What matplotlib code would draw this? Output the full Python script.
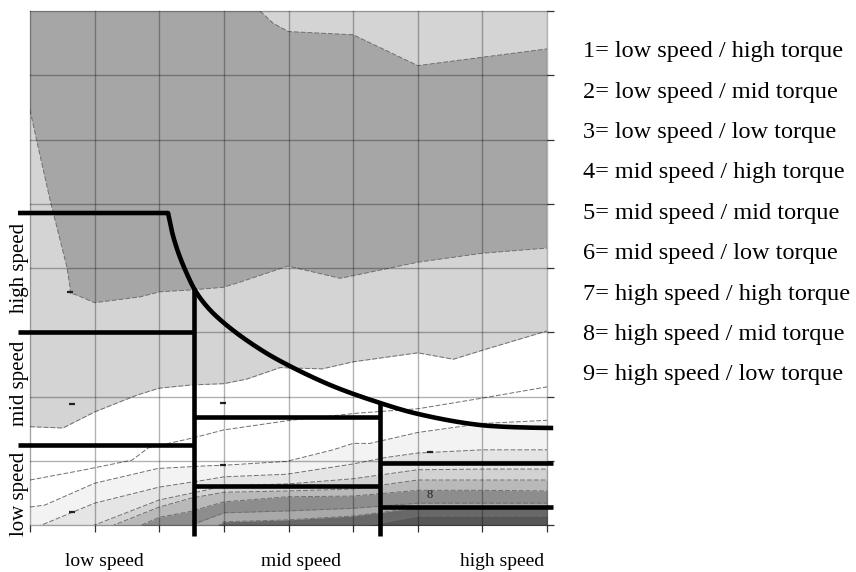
import numpy as np
import matplotlib
matplotlib.use("Agg")
import matplotlib.pyplot as plt

plt.rcParams['font.family'] = ['Liberation Serif', 'DejaVu Serif']

# contour boundaries (speed grid x 0..8, torque grid y 0..8)
top_x = [3.56, 3.76, 4.0, 5.0, 6.0, 7.0, 8.0]
top_y = [8.0, 7.81, 7.68, 7.63, 7.15, 7.28, 7.41]
dark_low_x = [0.0, 0.10, 0.31, 0.57, 0.62, 0.62, 0.72, 1.0, 1.70, 2.01, 2.52, 2.99, 3.25, 3.99, 4.80, 5.0, 6.0, 7.0, 8.0]
dark_low_y = [6.46, 6.0, 5.06, 4.02, 3.70, 3.61, 3.58, 3.46, 3.55, 3.63, 3.66, 3.70, 3.78, 4.03, 3.84, 3.88, 4.09, 4.23, 4.31]

white_x = [0, 0.51, 1.0, 1.65, 2.0, 2.5, 3.0, 3.35, 3.87, 4.52, 5.0, 6.0, 6.55, 7.0, 8.0]
white_y = [1.53, 1.51, 1.76, 2.02, 2.13, 2.18, 2.20, 2.27, 2.45, 2.43, 2.54, 2.68, 2.58, 2.72, 3.02]

# lower bands: (x, y, colour below the line)
bands = [
    ([0, 0.85, 1.58, 1.83, 2.5, 3.0, 4.03, 5.06, 6.01, 6.97, 8.0],
     [0.70, 0.86, 1.01, 1.20, 1.35, 1.48, 1.63, 1.74, 1.81, 1.97, 2.15], '#ffffff'),
    ([0, 0.23, 1.0, 1.98, 2.71, 3.0, 3.97, 4.69, 5.0, 5.26, 6.0, 7.0, 8.0],
     [0.28, 0.31, 0.65, 0.88, 0.92, 0.93, 0.99, 1.17, 1.27, 1.27, 1.44, 1.58, 1.63], '#f3f3f3'),
    ([0, 0.18, 1.0, 2.0, 2.71, 3.0, 3.97, 5.0, 5.5, 6.0, 7.0, 8.0],
     [-0.05, 0.0, 0.34, 0.59, 0.70, 0.75, 0.79, 0.95, 1.05, 1.12, 1.17, 1.17], '#e5e5e5'),
    ([0, 1.0, 2.0, 2.71, 3.0, 4.0, 5.0, 6.0, 7.0, 8.0],
     [-0.45, 0.0, 0.39, 0.54, 0.61, 0.64, 0.72, 0.86, 0.87, 0.87], '#d2d2d2'),
    ([0, 1.0, 1.3, 2.0, 2.5, 3.0, 4.0, 5.0, 6.0, 7.0, 8.0],
     [-0.9, -0.2, 0.0, 0.28, 0.42, 0.51, 0.53, 0.56, 0.70, 0.70, 0.70], '#b9b9b9'),
    ([0, 1.0, 1.73, 2.0, 2.48, 3.0, 4.0, 5.0, 6.0, 7.0, 8.0],
     [-1.5, -0.6, 0.0, 0.12, 0.21, 0.36, 0.44, 0.45, 0.54, 0.54, 0.53], '#8d8d8d'),
    ([1.0, 2.0, 2.5, 3.0, 4.0, 5.0, 6.0, 7.0, 8.0],
     [-1.0, -0.3, 0.0, 0.19, 0.22, 0.26, 0.34, 0.34, 0.34], '#a9a9a9'),
    ([2.0, 3.0, 4.0, 5.0, 6.0, 7.0, 8.0],
     [-0.6, 0.05, 0.08, 0.14, 0.27, 0.28, 0.28], '#686868'),
    ([3.0, 4.0, 5.0, 6.0, 7.0, 8.0],
     [-0.6, -0.25, -0.05, 0.14, 0.14, 0.14], '#575757'),
]

# power limit curve and zone borders
curve_x = [2.136, 2.198, 2.291, 2.415, 2.570, 2.786, 3.096, 3.483, 3.870, 4.644, 5.418, 6.006, 6.966, 8.003, 8.096]
curve_y = [4.856, 4.560, 4.249, 3.938, 3.626, 3.346, 3.066, 2.786, 2.553, 2.179, 1.899, 1.728, 1.556, 1.510, 1.510]
label_x = -0.186
low_split = 2.53
mid_split = 5.42
low_bounds = [3.0, 1.245]
mid_bounds = [1.686, 0.61]
high_bounds = [0.97, 0.285]

legend = ["1= low speed / high torque", "2= low speed / mid torque", "3= low speed / low torque",
          "4= mid speed / high torque", "5= mid speed / mid torque", "6= mid speed / low torque",
          "7= high speed / high torque", "8= high speed / mid torque", "9= high speed / low torque"]
speed_names = ["low speed", "mid speed", "high speed"]


def smooth(px, py, n=20):
    # centripetal catmull-rom through the read points
    pts = np.column_stack([px, py]).astype(float)
    pts = np.vstack([2 * pts[0] - pts[1], pts, 2 * pts[-1] - pts[-2]])
    out = []
    for i in range(1, len(pts) - 2):
        p0, p1, p2, p3 = pts[i - 1:i + 3]
        t0 = 0.0
        t1 = t0 + np.linalg.norm(p1 - p0) ** 0.5
        t2 = t1 + np.linalg.norm(p2 - p1) ** 0.5
        t3 = t2 + np.linalg.norm(p3 - p2) ** 0.5
        t = np.linspace(t1, t2, n, endpoint=False)[:, None]
        a1 = (t1 - t) / (t1 - t0) * p0 + (t - t0) / (t1 - t0) * p1
        a2 = (t2 - t) / (t2 - t1) * p1 + (t - t1) / (t2 - t1) * p2
        a3 = (t3 - t) / (t3 - t2) * p2 + (t - t2) / (t3 - t2) * p3
        b1 = (t2 - t) / (t2 - t0) * a1 + (t - t0) / (t2 - t0) * a2
        b2 = (t3 - t) / (t3 - t1) * a2 + (t - t1) / (t3 - t1) * a3
        out.append((t2 - t) / (t2 - t1) * b1 + (t - t1) / (t2 - t1) * b2)
    out.append(pts[-2][None])
    return np.vstack(out)


fig = plt.figure(figsize=(8.56, 5.72), dpi=100)
ax = fig.add_axes([30 / 856, 1 - 525 / 572, 517 / 856, 514 / 572])
ax.set_xlim(0, 8)
ax.set_ylim(0, 8)
ax.set_facecolor('#d4d4d4')

dark_x = list(top_x) + [8.0] + dark_low_x[::-1] + [0.0]
dark_y = list(top_y) + [4.31] + dark_low_y[::-1] + [8.0]
ax.fill(dark_x, dark_y, color='#a6a6a6', lw=0, zorder=1)
ax.fill_between(white_x, -2, white_y, color='white', lw=0, zorder=2)
for bx, by, col in bands:
    ax.fill_between(bx, -2, by, color=col, lw=0, zorder=2)

dash = dict(color='#6f6f6f', lw=0.7, ls=(0, (5, 2)), zorder=3)
ax.plot(top_x, top_y, **dash)
ax.plot(dark_low_x, dark_low_y, **dash)
ax.plot(white_x, white_y, **dash)
for bx, by, col in bands:
    ax.plot(bx, by, **dash)

# contour label leftovers
marks_x = [0.62, 6.19, 2.99, 2.99, 0.65, 0.65]
marks_y = [3.63, 1.13, 0.93, 1.90, 1.89, 0.21]
ax.plot(marks_x, marks_y, ls='none', marker='_', ms=5, mew=1.6, color='#222222', zorder=3)
ax.text(6.19, 0.47, '8', fontsize=9, ha='center', va='center', color='#222222', zorder=3)

for i in range(9):
    ax.axvline(i, color='black', alpha=0.3, lw=1.0, zorder=4, clip_on=False)
    ax.axhline(i, color='black', alpha=0.3, lw=1.0, zorder=4, clip_on=False)

for s in ax.spines.values():
    s.set_visible(False)
ax.set_xticks(range(9))
ax.set_yticks(range(9))
ax.set_xticklabels([])
ax.set_yticklabels([])
ax.yaxis.tick_right()
ax.tick_params(length=5, width=0.9, color='#333333')

thick = dict(color='black', lw=3.3, solid_capstyle='butt', solid_joinstyle='round', zorder=6, clip_on=False)
cv = smooth(curve_x, curve_y)
ax.plot(np.r_[label_x, cv[:, 0]], np.r_[curve_y[0], cv[:, 1]], **thick)
for yb in low_bounds:
    ax.plot([label_x, low_split], [yb, yb], **thick)
ax.plot([low_split, low_split], [np.interp(low_split, cv[:, 0], cv[:, 1]), -0.17], **thick)
for yb in mid_bounds:
    ax.plot([low_split, mid_split], [yb, yb], **thick)
ax.plot([mid_split, mid_split], [np.interp(mid_split, cv[:, 0], cv[:, 1]), -0.17], **thick)
for yb in high_bounds:
    ax.plot([mid_split, 8.1], [yb, yb], **thick)

# side labels
for name, yc in zip(speed_names, [0.48, 2.21, 4.0]):
    ax.text(-0.17, yc, name, rotation=90, ha='center', va='center', fontsize=15, clip_on=False)
for name, xc in zip(speed_names, [104, 301, 502]):
    fig.text(xc / 856, 1 - 562 / 572, name, ha='center', va='center', fontsize=14)

for i, line in enumerate(legend):
    fig.text(583 / 856, 1 - (51.7 + 40.4 * i) / 572, line, ha='left', va='center', fontsize=17.5)

fig.savefig('out.png', dpi=100)
